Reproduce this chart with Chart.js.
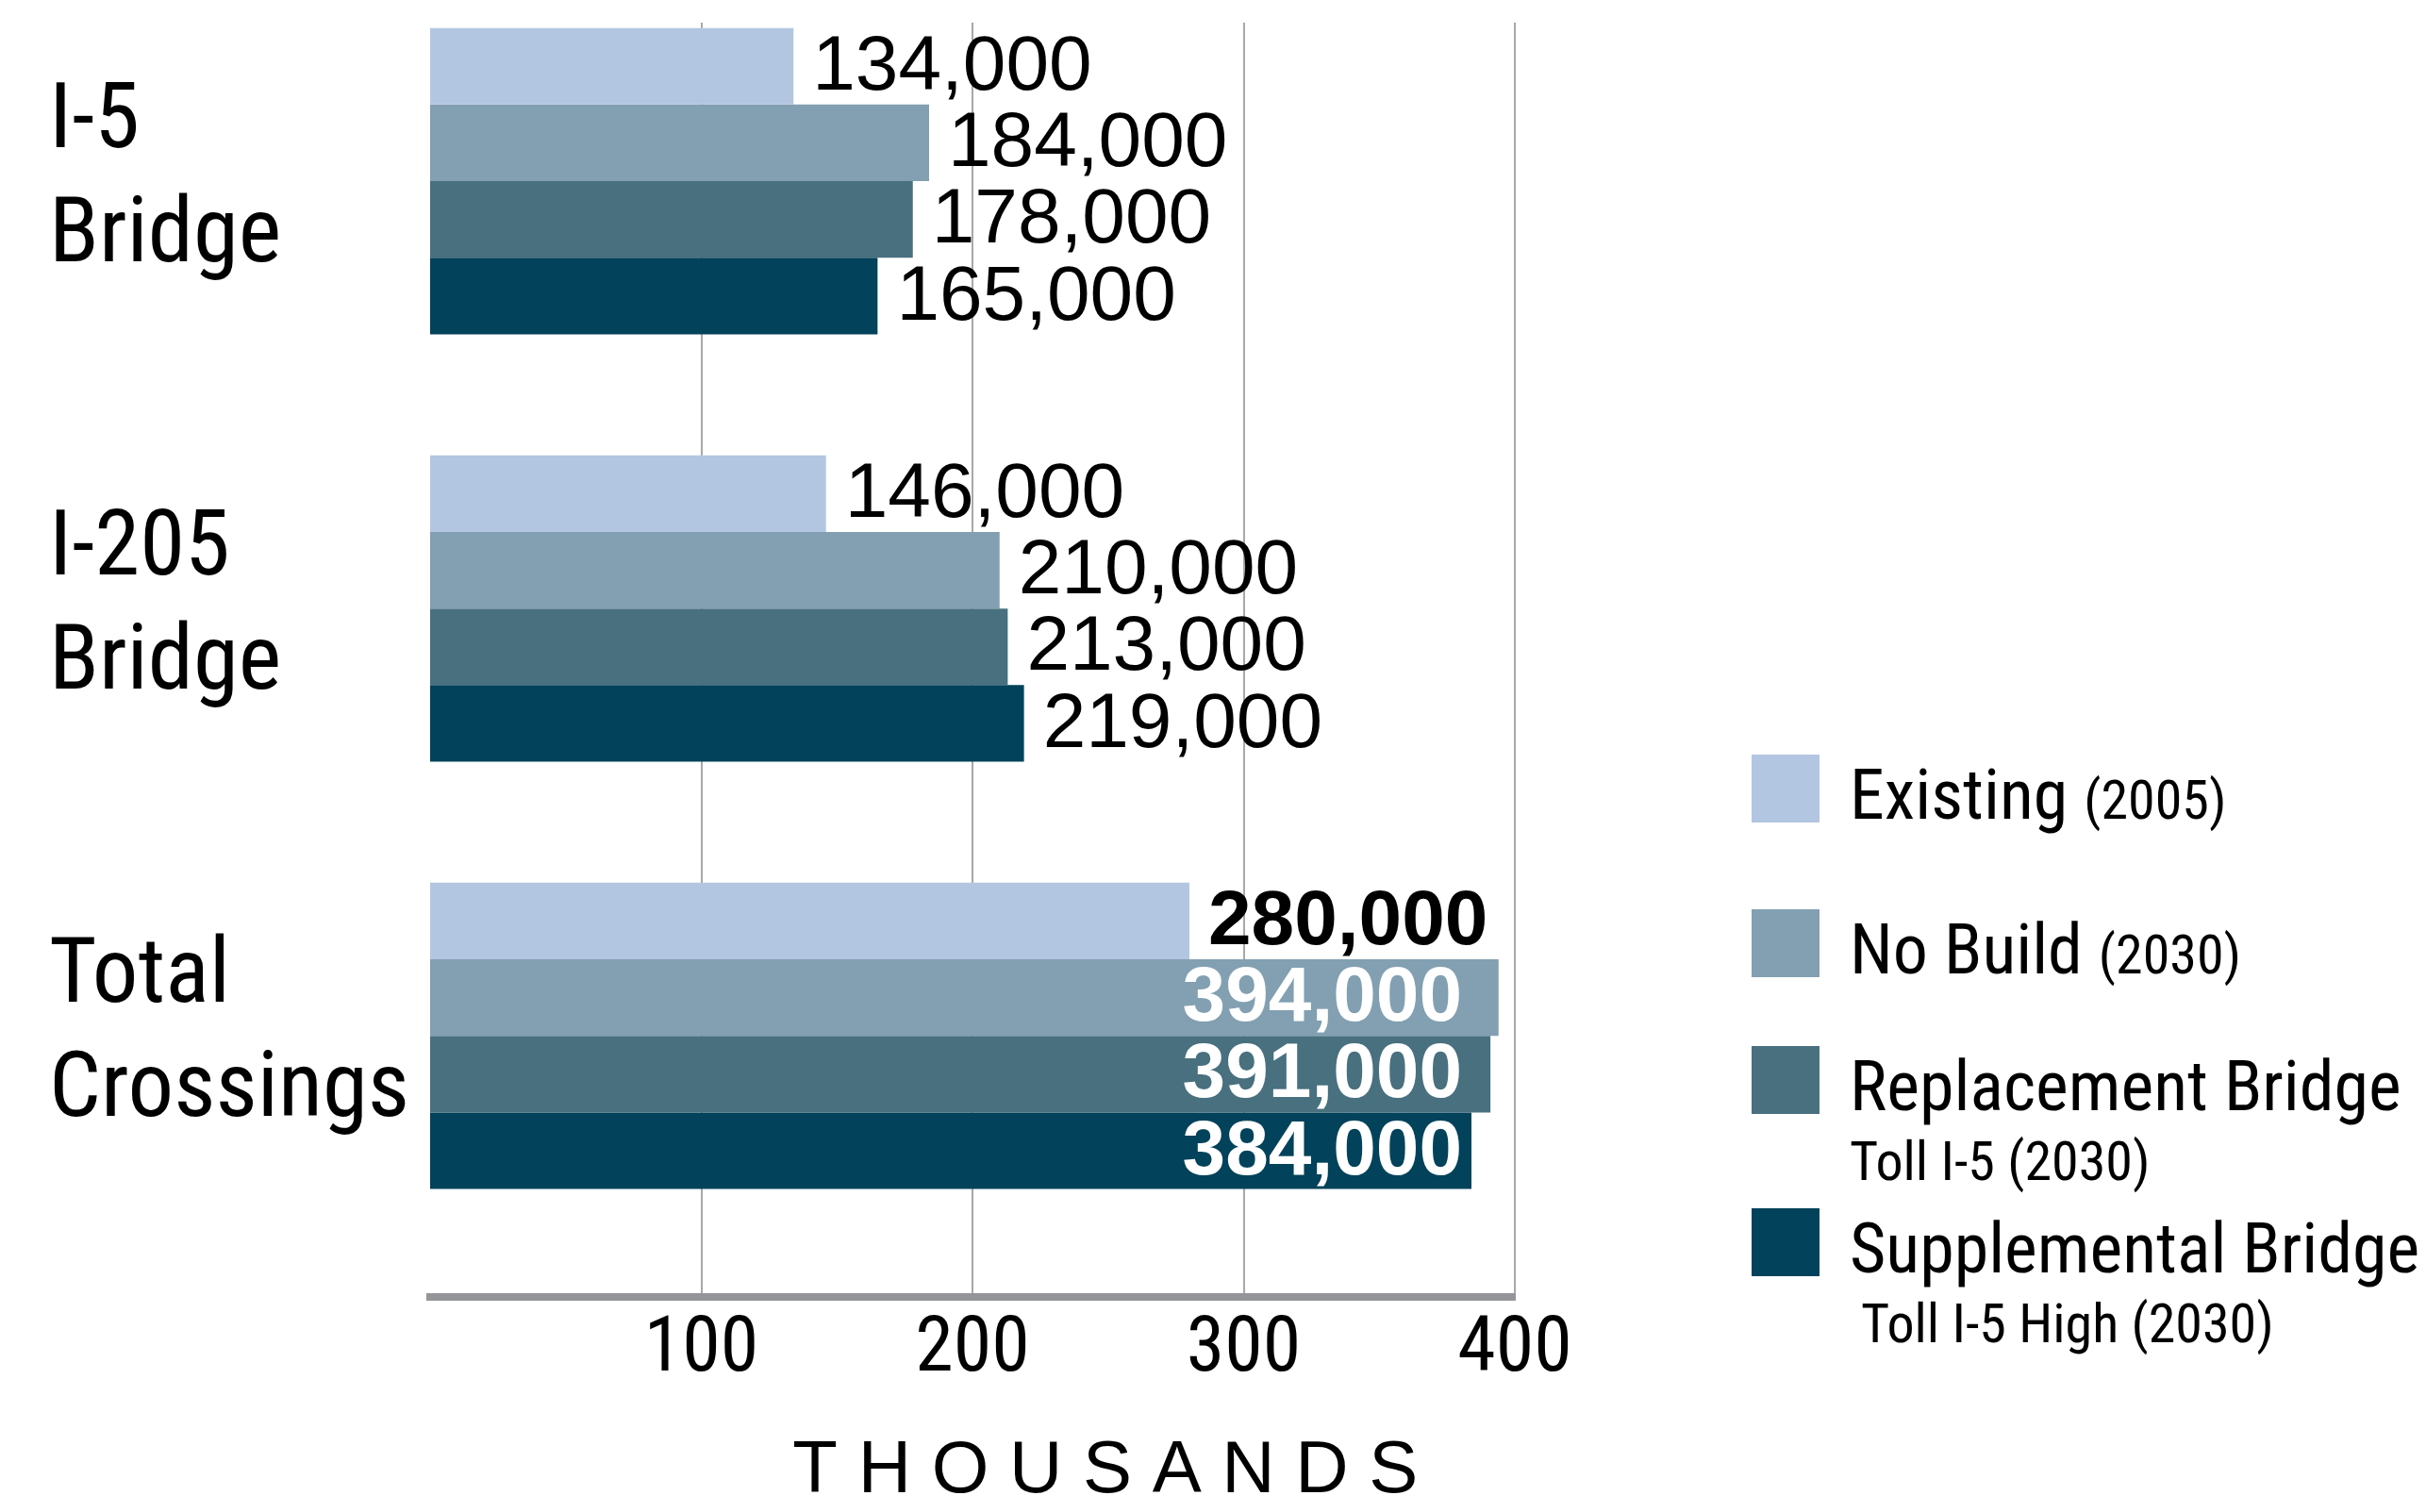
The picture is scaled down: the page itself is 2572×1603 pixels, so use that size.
<!DOCTYPE html>
<html>
<head>
<meta charset="utf-8">
<title>Bridge crossings</title>
<script src="https://cdn.jsdelivr.net/npm/chart.js@4.4.1/dist/chart.umd.min.js"></script>
<style>
  html, body { margin: 0; padding: 0; background: #fff; }
  #wrap { width: 2572px; height: 1603px; }
</style>
</head>
<body>
<div id="wrap"><canvas id="myChart" width="2572" height="1603"></canvas></div>
<script>
// categorias (cada una en dos lineas)
const categories = [["I-5", "Bridge"], ["I-205", "Bridge"], ["Total", "Crossings"]];
const series_names = ["Existing", "No Build", "Replacement Bridge", "Supplemental Bridge"];
const series_notes = ["(2005)", "(2030)", "Toll I-5 (2030)", "Toll I-5 High (2030)"];

// valores en miles
const existing_2005 = [134, 146, 280];
const no_build_2030 = [184, 210, 394];
const replacement_2030 = [178, 213, 391];
const supplemental_2030 = [165, 219, 384];
const x_ticks = [100, 200, 300, 400];

const colors = ["#b3c6e1", "#82a0b1", "#48707f", "#02425a"];

const NARROW = "'Roboto Condensed', 'DejaVu Sans Condensed', sans-serif";
const SANS = "'Liberation Sans', Arial, sans-serif";

const ctx = document.getElementById("myChart").getContext("2d");

const to_points = (values) => values.map((v, i) => ({ x: v, y: i }));

// etiquetas con el valor de cada barra
const value_labels = {
  id: "value_labels",
  afterDatasetsDraw(chart) {
    const c = chart.ctx;
    const area = chart.chartArea;
    chart.data.datasets.forEach((ds, d) => {
      const meta = chart.getDatasetMeta(d);
      meta.data.forEach((bar, i) => {
        const value = ds.data[i].x;
        const text = (value * 1000).toLocaleString("en-US");
        const bold = i === categories.length - 1;
        c.save();
        c.font = (bold ? "bold " : "") + "82px " + SANS;
        c.textBaseline = "middle";
        const w = c.measureText(text).width;
        const inside = bar.x + 20 + w > area.right;
        if (inside) {
          // alinear a la barra mas corta que lleva el texto dentro
          let min_end = Infinity;
          chart.data.datasets.forEach((o, k) => {
            const b = chart.getDatasetMeta(k).data[i];
            if (b.x + 20 + w > area.right) min_end = Math.min(min_end, b.x);
          });
          c.fillStyle = "#fff";
          c.textAlign = "right";
          c.fillText(text, min_end - 10, bar.y + 2);
        } else {
          c.fillStyle = "#000";
          c.textAlign = "left";
          c.fillText(text, bar.x + 20, bar.y + 2);
        }
        c.restore();
      });
    });
  },
};

// leyenda a la derecha
const legend_tops = [800, 964, 1109, 1281];
const side_legend = {
  id: "side_legend",
  afterDraw(chart) {
    const c = chart.ctx;
    const box_x = 1857;
    const text_x = 1961;
    c.save();
    c.textBaseline = "alphabetic";
    c.textAlign = "left";
    chart.data.datasets.forEach((ds, d) => {
      const top = legend_tops[d];
      c.fillStyle = ds.backgroundColor;
      c.fillRect(box_x, top, 72, 72);
      c.fillStyle = "#000";
      c.font = "74px " + NARROW;
      const base = top + 68;
      c.fillText(ds.label, text_x, base);
      const note = series_notes[d];
      c.font = "58px " + NARROW;
      if (note.startsWith("(")) {
        c.font = "74px " + NARROW;
        const w = c.measureText(ds.label + " ").width;
        c.font = "58px " + NARROW;
        c.fillText(note, text_x + w, base);
      } else {
        c.fillText(note, text_x + (d === 3 ? 12 : 0), base + 74);
      }
    });
    c.restore();
  },
};

const all_values = [existing_2005, no_build_2030, replacement_2030, supplemental_2030];

const myChart = new Chart(ctx, {
  type: "bar",
  data: {
    datasets: all_values.map((vals, d) => ({
      label: series_names[d],
      data: to_points(vals),
      backgroundColor: colors[d],
      borderWidth: 0,
      categoryPercentage: 0.717,
      barPercentage: 1.0,
    })),
  },
  options: {
    indexAxis: "y",
    responsive: false,
    animation: false,
    devicePixelRatio: 1,
    layout: { padding: { left: 52, top: 24, right: 966, bottom: 0 } },
    plugins: {
      legend: { display: false },
      tooltip: { enabled: false },
    },
    scales: {
      x: {
        type: "linear",
        min: 0,
        max: 400,
        afterBuildTicks: (s) => {
          s.ticks = x_ticks.map((v) => ({ value: v }));
        },
        afterFit: (s) => {
          s.height = 228;
        },
        grid: { color: "#a8a8a8", lineWidth: 2, drawTicks: false },
        border: { color: "#939598", width: 8 },
        ticks: {
          color: "#000",
          padding: 8,
          font: { family: NARROW, size: 82, lineHeight: 1.2 },
        },
        title: {
          display: true,
          text: "             T H O U S A N D S",
          color: "#000",
          font: { family: SANS, size: 78, lineHeight: 1 },
          padding: { top: 0, bottom: 4 },
        },
      },
      y: {
        type: "linear",
        reverse: true,
        offset: false,
        min: -0.371,
        max: 2.611,
        afterBuildTicks: (s) => {
          s.ticks = categories.map((c, i) => ({ value: i }));
        },
        afterFit: (s) => {
          s.width = 404;
          s.paddingTop = 0;
          s.paddingBottom = 0;
        },
        grid: { display: false, offset: false },
        border: { display: false },
        ticks: {
          crossAlign: "far",
          color: "#000",
          font: { family: NARROW, size: 97, lineHeight: 1.25 },
          callback: (v) => categories[v],
        },
      },
    },
  },
  plugins: [value_labels, side_legend],
});
</script>
</body>
</html>
